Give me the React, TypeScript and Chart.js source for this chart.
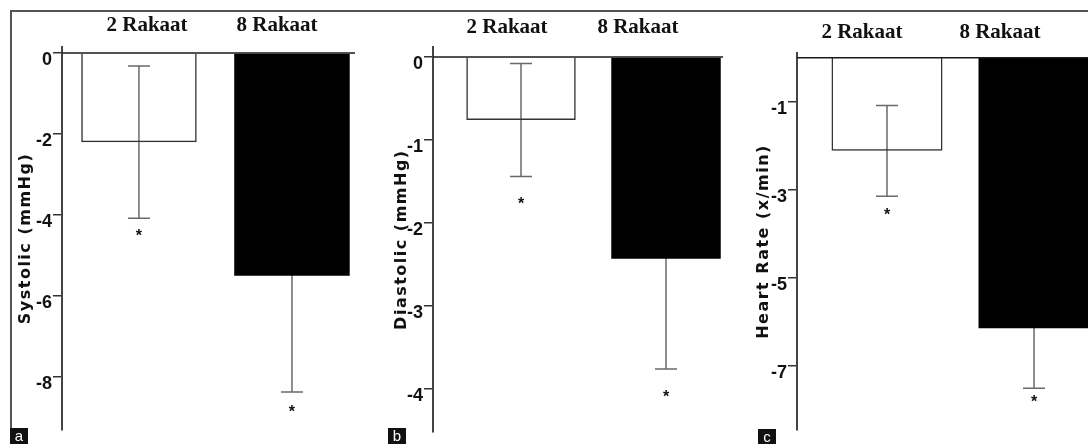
import React, { useEffect, useRef } from 'react';
import { Chart, registerables } from 'chart.js';

Chart.register(...registerables);

// ---------- data ----------
const categories = ['2 Rakaat', '8 Rakaat'];

const systolicMean = [-2.2, -5.5];
const systolicErr = [1.88, 2.87];
const systolicStar = [-4.44, -8.77];
const systolicTicks = [0, -2, -4, -6, -8];

const diastolicMean = [-0.76, -2.43];
const diastolicErr = [0.68, 1.33];
const diastolicStar = [-1.73, -4.05];
const diastolicTicks = [0, -1, -2, -3, -4];

const heartMean = [-2.11, -6.14];
const heartErr = [1.03, 1.36];
const heartStar = [-3.5, -7.73];
const heartTicks = [-1, -3, -5, -7];

const panelTitles = ['Systolic (mmHg)', 'Diastolic (mmHg)', 'Heart Rate (x/min)'];
const panelLetters = ['a', 'b', 'c'];

// ---------- layout / style ----------
type Spec = {
  title: string;
  means: number[];
  errs: number[];
  stars: number[];
  ticks: number[];
  left: number;
  width: number;
  areaLeft: number;
  areaTop: number;
  areaRight: number;
  areaBottom: number;
  yMin: number;
  yMax: number;
  xMin: number;
  xMax: number;
  hMin: number;
  hMax: number;
  titlePad: number;
  headPad: number;
};

const H = 444;

const panels: Spec[] = [
  {
    title: panelTitles[0], means: systolicMean, errs: systolicErr, stars: systolicStar, ticks: systolicTicks,
    left: 0, width: 370, areaLeft: 62, areaTop: 47, areaRight: 355, areaBottom: 430,
    yMin: -9.31, yMax: 0.15, xMin: 0.497, xMax: 2.412, hMin: 0.346, hMax: 2.6,
    titlePad: 16, headPad: 9,
  },
  {
    title: panelTitles[1], means: diastolicMean, errs: diastolicErr, stars: diastolicStar, ticks: diastolicTicks,
    left: 370, width: 365, areaLeft: 63, areaTop: 47, areaRight: 353, areaBottom: 437,
    yMin: -4.52, yMax: 0.12, xMin: 0.393, xMax: 2.393, hMin: 0.435, hMax: 2.649,
    titlePad: 22, headPad: 7,
  },
  {
    title: panelTitles[2], means: heartMean, errs: heartErr, stars: heartStar, ticks: heartTicks,
    left: 735, width: 353, areaLeft: 62, areaTop: 53, areaRight: 353, areaBottom: 430,
    yMin: -8.45, yMax: 0.11, xMin: 0.388, xMax: 2.367, hMin: 0.529, hMax: 2.638,
    titlePad: 19, headPad: 8,
  },
];

const letterBoxes = [
  { left: 10, top: 428 },
  { left: 388, top: 428 },
  { left: 758, top: 429 },
];

const CAP = 22;

function Panel({ spec }: { spec: Spec }) {
  const ref = useRef<HTMLCanvasElement | null>(null);

  useEffect(() => {
    if (!ref.current) return;

    const spacingPlugin = {
      id: 'spacing',
      beforeDraw(chart: any) {
        try { chart.ctx.letterSpacing = '1.5px'; } catch (e) { /* ignore */ }
      },
    };

    const decoPlugin = {
      id: 'deco',
      beforeDatasetsDraw(chart: any) {
        const ctx = chart.ctx;
        try { ctx.letterSpacing = '0px'; } catch (e) { /* ignore */ }
        const meta = chart.getDatasetMeta(0);
        const y = chart.scales.y;
        ctx.save();
        ctx.strokeStyle = '#6a6a6a';
        ctx.lineWidth = 1.5;
        meta.data.forEach((bar: any, i: number) => {
          const m = spec.means[i];
          const e = spec.errs[i];
          const yTop = y.getPixelForValue(m + e);
          const yBot = y.getPixelForValue(m - e);
          const x = bar.x;
          ctx.beginPath();
          ctx.moveTo(x, yTop);
          ctx.lineTo(x, yBot);
          ctx.moveTo(x - CAP / 2, yTop);
          ctx.lineTo(x + CAP / 2, yTop);
          ctx.moveTo(x - CAP / 2, yBot);
          ctx.lineTo(x + CAP / 2, yBot);
          ctx.stroke();
        });
        ctx.restore();
      },
      afterDatasetsDraw(chart: any) {
        const ctx = chart.ctx;
        const y = chart.scales.y;
        const area = chart.chartArea;
        const meta = chart.getDatasetMeta(0);
        ctx.save();
        const y0 = y.getPixelForValue(0);
        ctx.strokeStyle = '#1a1a1a';
        ctx.lineWidth = 1.5;
        ctx.beginPath();
        ctx.moveTo(area.left, y0);
        ctx.lineTo(area.right, y0);
        ctx.stroke();
        ctx.font = 'bold 16px "Liberation Sans", Arial, sans-serif';
        ctx.fillStyle = '#111';
        ctx.textAlign = 'center';
        ctx.textBaseline = 'alphabetic';
        const mt = ctx.measureText('*');
        const adj = (mt.actualBoundingBoxAscent - mt.actualBoundingBoxDescent) / 2;
        meta.data.forEach((bar: any, i: number) => {
          const yy = y.getPixelForValue(spec.stars[i]);
          ctx.fillText('*', bar.x, yy + adj);
        });
        ctx.restore();
      },
    };

    const chart = new Chart(ref.current, {
      type: 'bar',
      data: {
        datasets: [
          {
            data: spec.means.map((v, i) => ({ x: i + 1, y: v })),
            backgroundColor: ['rgba(255,255,255,0)', '#000000'],
            borderColor: ['#333333', '#000000'],
            borderWidth: [1.5, 0],
            categoryPercentage: 1,
            barPercentage: 0.755,
            xAxisID: 'x',
            yAxisID: 'y',
          } as any,
        ],
      },
      options: {
        responsive: false,
        animation: false,
        events: [],
        layout: {
          padding: {
            left: 0,
            top: 0,
            right: spec.width - spec.areaRight,
            bottom: H - spec.areaBottom,
          },
        },
        plugins: {
          legend: { display: false },
          tooltip: { enabled: false },
        },
        scales: {
          x: {
            type: 'linear',
            display: false,
            offset: false,
            grid: { offset: false },
            min: spec.xMin,
            max: spec.xMax,
            afterBuildTicks: (s: any) => {
              s.ticks = categories.map((_, i) => ({ value: i + 1 }));
            },
          },
          xTop: {
            type: 'linear',
            position: 'top',
            offset: false,
            min: spec.hMin,
            max: spec.hMax,
            grid: { display: false, drawTicks: false, offset: false },
            border: { display: false },
            afterBuildTicks: (s: any) => {
              s.ticks = categories.map((_, i) => ({ value: i + 1 }));
            },
            afterFit: (s: any) => {
              s.height = spec.areaTop;
            },
            ticks: {
              z: 1,
              autoSkip: false,
              maxRotation: 0,
              minRotation: 0,
              padding: spec.headPad,
              color: '#111',
              font: { family: '"Liberation Serif", "Times New Roman", serif', size: 21, weight: 'bold' },
              callback: (v: any) => categories[Math.round(Number(v)) - 1] ?? '',
            },
          },
          y: {
            type: 'linear',
            position: 'left',
            min: spec.yMin,
            max: spec.yMax,
            afterBuildTicks: (s: any) => {
              s.ticks = spec.ticks.map((v) => ({ value: v }));
            },
            afterFit: (s: any) => {
              s.width = spec.areaLeft;
            },
            grid: {
              drawOnChartArea: false,
              drawTicks: true,
              tickLength: 9,
              color: '#333',
              lineWidth: 1.5,
            },
            border: { display: true, color: '#444', width: 2 },
            ticks: {
              z: 1,
              padding: 1,
              labelOffset: 7,
              color: '#111',
              font: {
                family: '"Liberation Sans", Arial, sans-serif',
                size: 18,
                weight: 'bold',
              },
              callback: (v: any) => String(v),
            },
            title: {
              display: true,
              text: spec.title,
              color: '#111',
              padding: { top: spec.titlePad, bottom: 0 },
              font: { family: '"DejaVu Sans", Verdana, sans-serif', size: 16, weight: 'bold' },
            },
          },
        } as any,
      },
      plugins: [spacingPlugin, decoPlugin],
    } as any);

    return () => {
      chart.destroy();
    };
  }, [spec]);

  return (
    <canvas
      ref={ref}
      width={spec.width}
      height={H}
      style={{ position: 'absolute', left: spec.left, top: 0, width: spec.width, height: H }}
    />
  );
}

export default function App() {
  return (
    <div
      style={{
        position: 'absolute',
        left: 0,
        top: 0,
        width: 1088,
        height: H,
        background: '#ffffff',
        overflow: 'hidden',
      }}
    >
      <div
        style={{
          position: 'absolute',
          left: 10,
          top: 10,
          width: 1078,
          height: 416,
          borderTop: '2px solid #555',
          borderLeft: '2px solid #555',
        }}
      />
      {panels.map((p, i) => (
        <Panel key={i} spec={p} />
      ))}
      {letterBoxes.map((b, i) => (
        <div
          key={'l' + i}
          style={{
            position: 'absolute',
            left: b.left,
            top: b.top,
            width: 18,
            height: H - b.top,
            background: '#111',
            color: '#fff',
            fontFamily: '"Liberation Sans", Arial, sans-serif',
            fontSize: 15,
            lineHeight: H - b.top + 'px',
            textAlign: 'center',
          }}
        >
          {panelLetters[i]}
        </div>
      ))}
    </div>
  );
}
